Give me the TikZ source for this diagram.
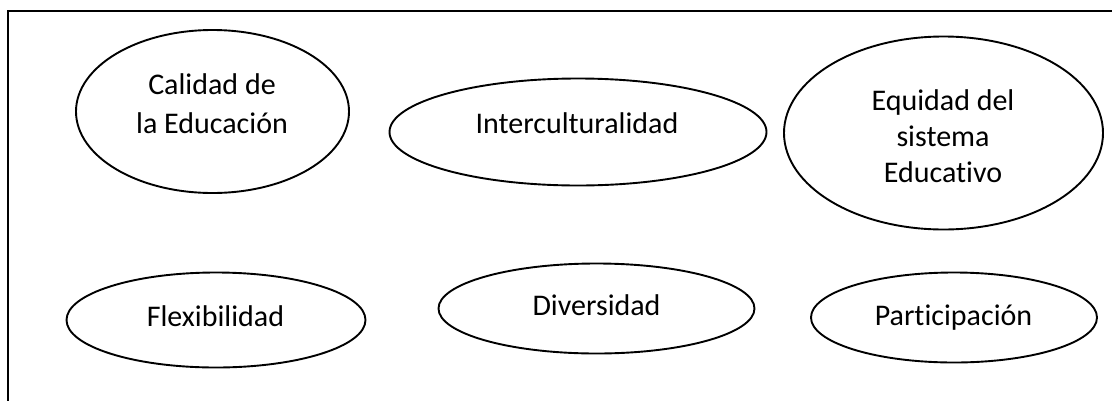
\documentclass[tikz,border=0pt]{standalone}
\usepackage{fontspec}
\setmainfont{Carlito}[Ligatures={NoCommon,NoContextual},RawFeature=-calt]
\usetikzlibrary{shapes.geometric}
\begin{document}
\begin{tikzpicture}[x=1pt,y=-1pt,
  oval/.style={draw=black,line width=1.9pt,ellipse,inner sep=0pt,fill=none},
  lbl/.style={anchor=base,align=center,inner sep=0pt,font=\fontsize{30}{37}\selectfont}]
\useasboundingbox (0,0) rectangle (1112,400);
\fill[white] (0,0) rectangle (1112,400);
\draw[line width=2.4pt] (8,11) rectangle (1125,415);
% ellipses
\node[oval,minimum width=273pt,minimum height=163pt] (e1) at (212.5,111.5) {};
\node[oval,minimum width=377pt,minimum height=107pt] (e2) at (578,132) {};
\node[oval,minimum width=319pt,minimum height=193pt] (e3) at (943.5,133) {};
\node[oval,minimum width=299pt,minimum height=95pt] (e4) at (216,320) {};
\node[oval,minimum width=316pt,minimum height=90pt] (e5) at (596.5,308.5) {};
\node[oval,minimum width=286pt,minimum height=90pt] (e6) at (954,317.5) {};
% labels (base = baseline of the last line)
\node[lbl,font=\fontsize{30}{39}\selectfont] (t1) at (212,133) {Calidad de\\la Educación};
\node[lbl] (t2) at (577,133) {Interculturalidad};
\node[lbl,font=\fontsize{30}{36}\selectfont] (t3) at (943,182) {Equidad del\\sistema\\Educativo};
\node[lbl] (t4) at (215.5,326) {Flexibilidad};
\node[lbl] (t5) at (596.5,315) {Diversidad};
\node[lbl] (t6) at (953.5,325) {Participación};
\end{tikzpicture}
\end{document}
